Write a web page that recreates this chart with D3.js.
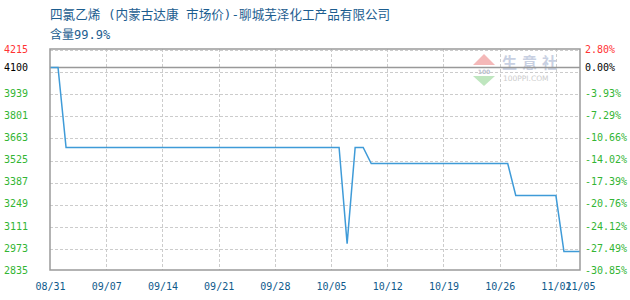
<!DOCTYPE html>
<html>
<head>
<meta charset="utf-8">
<script src="https://cdn.jsdelivr.net/npm/d3@7"></script>
<style>
  body { margin: 0; background: #fff; }
  svg { display: block; }
  .mono { font-family: "DejaVu Sans Mono", "Liberation Mono", monospace; font-size: 10px; }
</style>
</head>
<body>
<div id="chart"></div>
<script>
// data
const dates = ["2023/08/31", "2023/09/01", "2023/09/02", "2023/10/06", "2023/10/07", "2023/10/08",
  "2023/10/09", "2023/10/10", "2023/10/27", "2023/10/28", "2023/11/02", "2023/11/03", "2023/11/05"];
const prices = [4100, 4100, 3600, 3600, 3000, 3600, 3600, 3500, 3500, 3300, 3300, 2950, 2950];

const basePrice = 4100;
const gridValues = [4215, 4077, 3939, 3801, 3663, 3525, 3387, 3249, 3111, 2973, 2835];
const labelValues = [4215, 4100, 3939, 3801, 3663, 3525, 3387, 3249, 3111, 2973, 2835];
const xTickDates = ["2023/08/31", "2023/09/07", "2023/09/14", "2023/09/21", "2023/09/28", "2023/10/05",
  "2023/10/12", "2023/10/19", "2023/10/26", "2023/11/02", "2023/11/05"];

const titleLine1 = "四氯乙烯 (内蒙古达康 市场价)-聊城芜泽化工产品有限公司";
const titleLine2 = "含量99.9%";

const width = 630, height = 300;
const margin = { top: 49, right: 50, bottom: 30, left: 50 };
const innerW = width - margin.left - margin.right;
const innerH = height - margin.top - margin.bottom;

const parse = d3.timeParse("%Y/%m/%d");
const fmt = d3.timeFormat("%m/%d");
const points = dates.map((d, i) => ({ date: parse(d), value: prices[i] }));

const svg = d3.select("#chart").append("svg")
  .attr("width", width)
  .attr("height", height);

// title
const title = svg.append("g")
  .attr("font-family", '"DejaVu Sans Mono", "Noto Sans CJK SC", sans-serif')
  .attr("fill", "#1c5d8f");
title.append("text").attr("x", 50).attr("y", 19).attr("font-size", 12.6).text(titleLine1);
title.append("text").attr("x", 50).attr("y", 39).attr("font-size", 12).text(titleLine2);

const g = svg.append("g").attr("transform", `translate(${margin.left},${margin.top})`);

const x = d3.scaleTime()
  .domain([parse(dates[0]), parse(dates[dates.length - 1])])
  .range([0, innerW]);
const y = d3.scaleLinear()
  .domain([2835, 4215])
  .range([innerH, 0]);

// watermark
const wm = g.append("g").attr("transform", `translate(${innerW - 109},6)`);
wm.append("path").attr("d", "M2,10 L13,-1 L24,10 Z").attr("fill", "#f4b8b8");
wm.append("path").attr("d", "M2,21 L13,31 L24,21 Z").attr("fill", "#bfe6bf");
wm.append("text").attr("x", 13).attr("y", 19).attr("text-anchor", "middle")
  .attr("font-family", "DejaVu Sans").attr("font-size", 6).attr("font-weight", "bold")
  .attr("fill", "#b8c0d0").text("100");
wm.append("text").attr("x", 31).attr("y", 13)
  .attr("font-family", '"Noto Sans CJK SC"').attr("font-size", 15).attr("font-weight", "bold")
  .attr("letter-spacing", 5)
  .attr("fill", "#c8d0e2").text("生意社");
wm.append("text").attr("x", 32).attr("y", 26)
  .attr("font-family", "DejaVu Sans").attr("font-size", 7.5)
  .attr("fill", "#cccccc").text("100PPI.COM");

// horizontal grid
g.append("g")
  .selectAll("line")
  .data(gridValues.slice(0, -1))
  .join("line")
  .attr("x1", 0).attr("x2", innerW)
  .attr("y1", d => Math.round(y(d)) + 1.5).attr("y2", d => Math.round(y(d)) + 1.5)
  .attr("stroke", "#cccccc")
  .attr("stroke-dasharray", "3,2");

// vertical grid
const xTicks = xTickDates.map(parse);
g.append("g")
  .selectAll("line")
  .data(xTicks.slice(1, -1))
  .join("line")
  .attr("x1", d => Math.round(x(d)) + 0.5).attr("x2", d => Math.round(x(d)) + 0.5)
  .attr("y1", 0).attr("y2", innerH)
  .attr("stroke", "#cccccc")
  .attr("stroke-dasharray", "3,2");

// base price line
g.append("line")
  .attr("x1", 0).attr("x2", innerW)
  .attr("y1", y(basePrice)).attr("y2", y(basePrice))
  .attr("stroke", "#999999")
  .attr("stroke-width", 1.5);

// price line
const line = d3.line()
  .x(d => x(d.date))
  .y(d => y(d.value));

g.append("path")
  .datum(points)
  .attr("d", line)
  .attr("fill", "none")
  .attr("stroke", "#3f9bd8")
  .attr("stroke-width", 1.5);

// frame
g.append("rect")
  .attr("x", 0).attr("y", 0)
  .attr("width", innerW).attr("height", innerH)
  .attr("fill", "none")
  .attr("stroke", "#9a9a9a")
  .attr("stroke-width", 1.5);

function labelColor(v) {
  if (v > basePrice) return "#ff3333";
  if (v === basePrice) return "#000000";
  return "#33b533";
}

// left axis
const yLeft = g.append("g")
  .call(d3.axisLeft(y).tickValues(labelValues).tickSize(0).tickPadding(22).tickFormat(d => d));
yLeft.select(".domain").remove();
yLeft.selectAll("text")
  .attr("class", "mono")
  .attr("fill", d => labelColor(d));

// right axis, change against base price
const yRight = g.append("g")
  .attr("transform", `translate(${innerW},0)`)
  .call(d3.axisRight(y).tickValues(labelValues).tickSize(0).tickPadding(5)
    .tickFormat(d => ((d - basePrice) / basePrice * 100).toFixed(2) + "%"));
yRight.select(".domain").remove();
yRight.selectAll("text")
  .attr("class", "mono")
  .attr("fill", d => labelColor(d));

// bottom axis
const xAxis = g.append("g")
  .attr("transform", `translate(0,${innerH})`)
  .call(d3.axisBottom(x).tickValues(xTicks).tickSize(0).tickPadding(13).tickFormat(fmt));
xAxis.select(".domain").remove();
xAxis.selectAll("text")
  .attr("class", "mono")
  .attr("fill", "#0f5a8c");
</script>
</body>
</html>
